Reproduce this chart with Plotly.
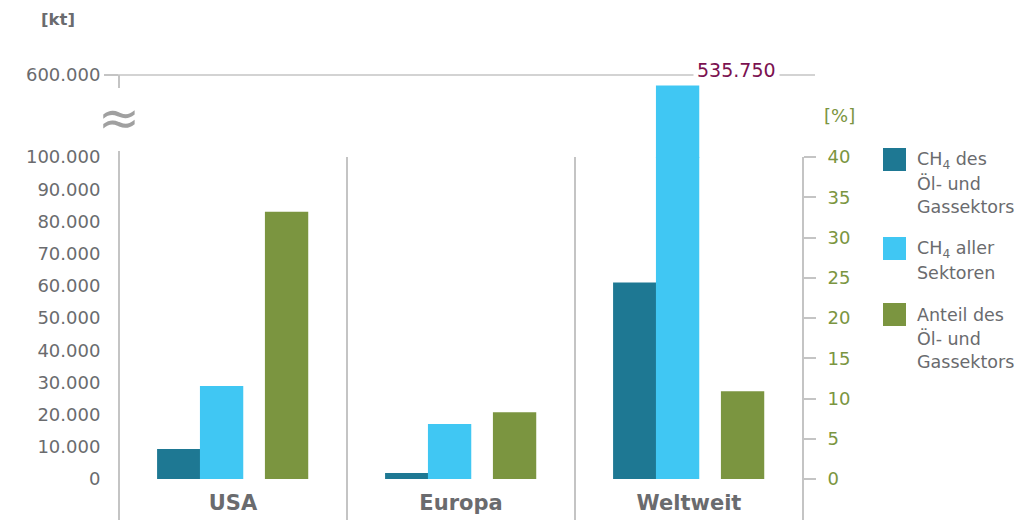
import plotly.graph_objects as go

# ---------------- data ----------------
categories = ["USA", "Europa", "Weltweit"]
ch4_oil_gas_kt = [9300, 1900, 61000]      # CH4 des Öl- und Gassektors [kt]
ch4_all_kt = [28900, 17100, 535750]       # CH4 aller Sektoren [kt]
share_pct = [33.2, 8.3, 10.9]             # Anteil des Öl- und Gassektors [%]

kt_label_ticks = list(range(0, 100001, 10000))
kt_grid_ticks = list(range(0, 100001, 20000))
pct_ticks = list(range(0, 41, 5))
upper_ticks = [600000]

# ---------------- style ----------------
C_DARK = "#1e7893"
C_LIGHT = "#40c7f3"
C_GREEN = "#7b9540"
GRAY_TXT = "#6a6b6e"
GRID = "#c4c4c4"
PURPLE = "#7b1150"
FONT = "DejaVu Sans"

OFF = 8                       # page body margin
W, H = 1024 - OFF, 521 - OFF
PLOT_L, PLOT_R, PLOT_T, PLOT_B = 119, 803, 75, 479   # in screenshot pixels
L = PLOT_L - OFF
T = PLOT_T - OFF
R = W - (PLOT_R - OFF)
B = H - (PLOT_B - OFF)
PW, PH = PLOT_R - PLOT_L, PLOT_B - PLOT_T


def px(x):
    return (x - PLOT_L) / PW


def py(y):
    return (PLOT_B - y) / PH


low_top = py(157)
UP_LO, UP_HI = 100000, 600000
up_px = 157 - 75
overlap_px = 1.0
up_bottom = UP_LO - (UP_HI - UP_LO) / up_px * overlap_px
up_domain_lo = low_top - overlap_px / PH
BW = 0.19

fig = go.Figure()

# lower (0..100.000) part
fig.add_bar(x=categories, y=ch4_oil_gas_kt, width=BW, offset=-0.333,
            marker=dict(color=C_DARK, line=dict(width=0)),
            name="CH4 des Öl- und Gassektors", xaxis="x", yaxis="y", showlegend=False)
fig.add_bar(x=categories, y=ch4_all_kt, width=BW, offset=-0.145,
            marker=dict(color=C_LIGHT, line=dict(width=0)),
            name="CH4 aller Sektoren", xaxis="x", yaxis="y", showlegend=False)
# upper (100.000..600.000) part of the broken axis
fig.add_bar(x=categories, y=ch4_oil_gas_kt, width=BW, offset=-0.333,
            marker=dict(color=C_DARK, line=dict(width=0)),
            xaxis="x", yaxis="y3", showlegend=False, hoverinfo="skip")
fig.add_bar(x=categories, y=ch4_all_kt, width=BW, offset=-0.145,
            marker=dict(color=C_LIGHT, line=dict(width=0)),
            xaxis="x", yaxis="y3", showlegend=False, hoverinfo="skip")
# share on right axis
fig.add_bar(x=categories, y=share_pct, width=BW, offset=0.14,
            marker=dict(color=C_GREEN, line=dict(width=0)),
            name="Anteil des Öl- und Gassektors", xaxis="x", yaxis="y2", showlegend=False)

fig.update_layout(
    width=W, height=H, autosize=False,
    margin=dict(l=L, r=R, t=T, b=B, pad=0, autoexpand=False),
    paper_bgcolor="white", plot_bgcolor="rgba(0,0,0,0)",
    barmode="overlay",
    separators=",.",
    font=dict(family=FONT, color=GRAY_TXT, size=18),
    showlegend=False,
    xaxis=dict(
        type="category", range=[-0.5, 2.5], domain=[0, 1], automargin=False,
        showgrid=False, zeroline=False, showline=False, ticks="",
        tickfont=dict(size=21, color=GRAY_TXT, family=FONT, weight="bold"),
        ticklabelstandoff=9,
    ),
    yaxis=dict(
        domain=[0, low_top], range=[0, 100000], automargin=False,
        tickvals=kt_label_ticks, tickformat=",d",
        ticks="outside", ticklen=14, tickcolor="rgba(0,0,0,0)",
        showgrid=False, zeroline=False, showline=False,
        tickfont=dict(size=18, color=GRAY_TXT),
    ),
    yaxis4=dict(
        overlaying="y", range=[0, 100000], side="left", automargin=False,
        tickvals=kt_grid_ticks, showticklabels=False,
        ticks="outside", ticklen=14, tickcolor=GRID, tickwidth=1.5,
        showgrid=True, gridcolor=GRID, gridwidth=1.5,
        zeroline=False, showline=False,
    ),
    yaxis2=dict(
        overlaying="y", side="right", range=[0, 40], automargin=False,
        tickvals=pct_ticks, ticks="outside", ticklen=12,
        tickcolor=GRID, tickwidth=1.5, ticklabelstandoff=8,
        showgrid=False, zeroline=False, showline=False,
        tickfont=dict(size=18, color=C_GREEN),
    ),
    yaxis3=dict(
        domain=[up_domain_lo, 1], range=[up_bottom, UP_HI], anchor="x", automargin=False,
        tickvals=upper_ticks, tickformat=",d",
        ticks="outside", ticklen=14, tickcolor=GRID, tickwidth=1.5,
        showgrid=False, zeroline=False, showline=False,
        tickfont=dict(size=18, color=GRAY_TXT),
    ),
)

line_style = dict(color=GRID, width=2)
shapes = []
# left axis (lower part) and short upper part
shapes.append(dict(type="line", xref="paper", yref="paper", x0=0, x1=0,
                   y0=py(520), y1=py(151), line=line_style))
shapes.append(dict(type="line", xref="paper", yref="paper", x0=0, x1=0,
                   y0=py(88), y1=1, line=line_style))
# category separators
for xv in [0.5, 1.5]:
    shapes.append(dict(type="line", xref="x", yref="paper", x0=xv, x1=xv,
                       y0=py(520), y1=low_top, line=line_style))
# right axis
shapes.append(dict(type="line", xref="paper", yref="paper", x0=1, x1=1,
                   y0=py(520), y1=low_top, line=line_style))
# top line at 600.000
shapes.append(dict(type="line", xref="paper", yref="paper", x0=px(105), x1=px(815),
                   y0=1, y1=1, line=dict(color=GRID, width=1.5)))

# custom legend: squares + one annotation per text line
legend_items = [
    (C_DARK, 148, ["CH<sub>4</sub> des", "Öl- und", "Gassektors"]),
    (C_LIGHT, 237, ["CH<sub>4</sub> aller", "Sektoren"]),
    (C_GREEN, 303, ["Anteil des", "Öl- und", "Gassektors"]),
]
LINE_STEP = 23.5
annotations = []
for col, top, lines in legend_items:
    shapes.append(dict(type="rect", xref="paper", yref="paper",
                       x0=px(883), x1=px(906), y0=py(top + 23), y1=py(top),
                       fillcolor=col, line=dict(width=0)))
    for i, ln in enumerate(lines):
        annotations.append(dict(xref="paper", yref="paper", x=px(915),
                                y=py(top + 12 + i * LINE_STEP),
                                xanchor="left", yanchor="middle", align="left",
                                text=ln, showarrow=False,
                                font=dict(size=17.5, color=GRAY_TXT, family=FONT)))

fig.update_layout(shapes=shapes)

# value label for the clipped bar
big_val = max(ch4_all_kt)
annotations.append(dict(xref="paper", yref="paper", x=px(736), y=py(70),
                        xanchor="center", yanchor="middle",
                        text=f"{big_val:,}".replace(",", "."), showarrow=False,
                        bgcolor="white", borderpad=3,
                        font=dict(size=19, color=PURPLE, family=FONT)))
# axis break symbol
annotations.append(dict(xref="paper", yref="paper", x=0, y=py(118),
                        xanchor="center", yanchor="middle", text="≈", showarrow=False,
                        font=dict(size=50, color="#a0a0a0", family=FONT)))
# unit labels
annotations.append(dict(xref="paper", yref="paper", x=px(58), y=py(19),
                        xanchor="center", yanchor="middle", text="<b>[kt]</b>", showarrow=False,
                        font=dict(size=16.5, color=GRAY_TXT, family=FONT)))
annotations.append(dict(xref="paper", yref="paper", x=px(839), y=py(115),
                        xanchor="center", yanchor="middle", text="[%]", showarrow=False,
                        font=dict(size=18, color=C_GREEN, family=FONT)))

fig.update_layout(annotations=annotations)

fig.write_html("out.html")
